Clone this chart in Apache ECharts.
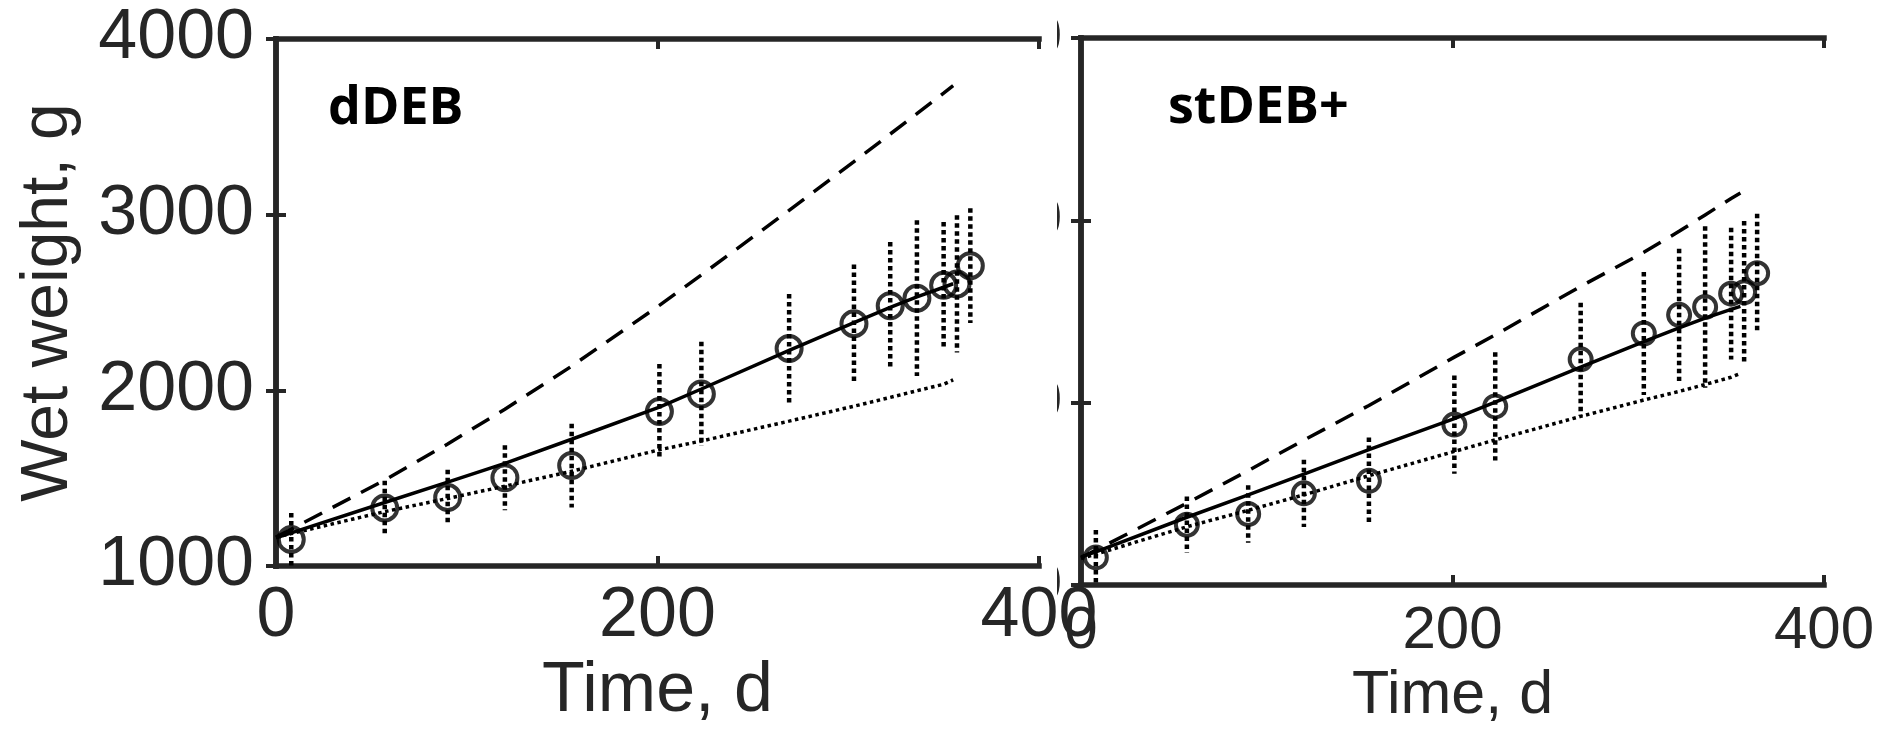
<!DOCTYPE html>
<html>
<head>
<meta charset="utf-8">
<script src="https://cdn.jsdelivr.net/npm/echarts@6/dist/echarts.min.js"></script>
<style>
  html, body { margin: 0; padding: 0; background: #fff; }
  #chart { width: 1885px; height: 732px; }
</style>
</head>
<body>
<div id="chart"></div>
<script>
// observations (same in both panels)
var days = [8, 57, 90, 120, 155, 201, 223, 269, 303, 322, 336, 350, 357, 364];
var obsWeight = [1152, 1331, 1390, 1503, 1572, 1880, 1980, 2238, 2380, 2482, 2525, 2598, 2606, 2710];
var obsErr = [150, 155, 158, 185, 238, 270, 297, 310, 337, 363, 443, 361, 391, 326];

// model curves
var modelDays = [0, 8, 57, 90, 120, 155, 201, 223, 269, 303, 322, 336, 350, 355];
var dDebFit = [1161, 1189, 1362, 1478, 1585, 1722, 1905, 2008, 2228, 2386, 2473, 2532, 2587, 2607];
var dDebHigh = [1165, 1210, 1490, 1695, 1893, 2138, 2484, 2657, 3025, 3302, 3459, 3575, 3692, 3734];
var dDebLow = [1165, 1185, 1310, 1385, 1455, 1540, 1662, 1712, 1825, 1910, 1960, 1998, 2035, 2060];
var stDebFit = [1155, 1182, 1372, 1495, 1608, 1743, 1913, 2003, 2195, 2335, 2410, 2464, 2512, 2528];
var stDebHigh = [1150, 1192, 1449, 1628, 1795, 1985, 2250, 2372, 2638, 2825, 2940, 3030, 3120, 3150];
var stDebLow = [1146, 1170, 1320, 1410, 1495, 1600, 1733, 1796, 1925, 2015, 2062, 2100, 2140, 2160];

var xTicks = [0, 200, 400];
var yTicks = [1000, 2000, 3000, 4000];
var panelNames = ["dDEB", "stDEB+"];

var font = "Liberation Sans";
var axisColor = "#262626";

function pairs(xs, ys) {
    return xs.map(function(x, i) { return [x, ys[i]]; });
}

function errorBarItem(params, api) {
    var x = api.value(0);
    var lo = api.coord([x, api.value(1)]);
    var hi = api.coord([x, api.value(2)]);
    return {
        type: "line",
        shape: { x1: hi[0], y1: hi[1], x2: lo[0], y2: lo[1] },
        style: { stroke: "#000", lineWidth: 4.5, lineDash: [4.5, 3.5] }
    };
}

function boxAxes(gridIndex, labelSize, yLabelZ) {
    var line = { show: true, lineStyle: { color: axisColor, width: 5.5, cap: "square" } };
    var tick = { show: true, inside: true, length: 10, lineStyle: { color: axisColor, width: 4 } };
    var plain = function(v) { return String(v); };
    var xs = [{
        gridIndex: gridIndex, type: "value", min: xTicks[0], max: xTicks[xTicks.length - 1], interval: 200,
        position: "bottom", z: 3,
        axisLine: line, axisTick: tick, splitLine: { show: false },
        axisLabel: { color: axisColor, fontFamily: font, fontSize: labelSize, margin: 16, formatter: plain }
    }, {
        gridIndex: gridIndex, type: "value", min: xTicks[0], max: xTicks[xTicks.length - 1], interval: 200,
        position: "top", z: 3,
        axisLine: line, axisTick: tick, splitLine: { show: false }, axisLabel: { show: false }
    }];
    var ys = [{
        gridIndex: gridIndex, type: "value", min: yTicks[0], max: yTicks[yTicks.length - 1], interval: 1000,
        position: "left", z: yLabelZ,
        axisLine: line, axisTick: tick, splitLine: { show: false },
        axisLabel: { color: axisColor, fontFamily: font, fontSize: labelSize, margin: 22,
            padding: [0, 0, 10, 0], formatter: plain }
    }, {
        gridIndex: gridIndex, type: "value", min: yTicks[0], max: yTicks[yTicks.length - 1], interval: 1000,
        position: "right", z: 3,
        axisLine: line, axisTick: tick, splitLine: { show: false }, axisLabel: { show: false }
    }];
    return { x: xs, y: ys };
}

var left = boxAxes(0, 70, 3);
var right = boxAxes(1, 60, 0);

left.x[0].name = "Time, d";
left.x[0].nameLocation = "middle";
left.x[0].nameGap = 78;
left.x[0].nameTextStyle = { color: axisColor, fontFamily: font, fontSize: 70 };
right.x[0].name = "Time, d";
right.x[0].nameLocation = "middle";
right.x[0].nameGap = 70;
right.x[0].nameTextStyle = { color: axisColor, fontFamily: font, fontSize: 61 };
left.y[0].name = "Wet weight, g";
left.y[0].nameLocation = "middle";
left.y[0].nameRotate = 90;
left.y[0].nameGap = 194;
left.y[0].nameTextStyle = { color: axisColor, fontFamily: font, fontSize: 66 };
right.y[0].axisLabel.margin = 19;

function panelSeries(k, fit, high, low, symbolSize) {
    var base = { xAxisIndex: 2 * k, yAxisIndex: 2 * k };
    var model = function(data, dash) {
        return Object.assign({
            type: "line", data: pairs(modelDays, data), showSymbol: false, symbol: "none",
            lineStyle: { color: "#000", width: 3.5, type: dash }, z: 4, silent: true
        }, base);
    };
    return [
        model(fit, "solid"),
        model(high, [20, 12]),
        model(low, [3.5, 3.5]),
        Object.assign({
            type: "custom", renderItem: errorBarItem, clip: true, z: 4, silent: true,
            encode: { x: 0, y: [1, 2] },
            data: days.map(function(d, i) { return [d, obsWeight[i] - obsErr[i], obsWeight[i] + obsErr[i]]; })
        }, base),
        Object.assign({
            type: "scatter", data: pairs(days, obsWeight), symbol: "circle", symbolSize: symbolSize, z: 5,
            itemStyle: { color: "rgba(0,0,0,0)", borderColor: "#000", borderWidth: 4 }, silent: true
        }, base)
    ];
}

var myChart = echarts.init(document.getElementById("chart"));
var option = {
    backgroundColor: "#fff",
    animation: false,
    grid: [
        { left: 276, top: 39, width: 763, height: 547 },
        { left: 1081, top: 38, width: 743, height: 554 }
    ],
    xAxis: [left.x[0], left.x[1], right.x[0], right.x[1]],
    yAxis: [left.y[0], left.y[1], right.y[0], right.y[1]],
    series: panelSeries(0, dDebFit, dDebHigh, dDebLow, 25)
        .concat(panelSeries(1, stDebFit, stDebHigh, stDebLow, 22)),
    graphic: [
        // the right panel's y labels are cut off in the source figure: only a sliver is visible
        { type: "rect", z: 1, shape: { x: 880, y: 0, width: 177, height: 615 }, style: { fill: "#fff" }, silent: true },
        { type: "text", z: 6, style: { x: 328, y: 109, text: panelNames[0], fill: "#000",
            font: 'bold 52px "Open Sans"', textVerticalAlign: "middle" } },
        { type: "text", z: 6, style: { x: 1168, y: 108, text: panelNames[1], fill: "#000",
            font: 'bold 52px "Open Sans"', textVerticalAlign: "middle" } }
    ]
};
myChart.setOption(option);
window.addEventListener("resize", function() {
    myChart.resize();
});
</script>
</body>
</html>
